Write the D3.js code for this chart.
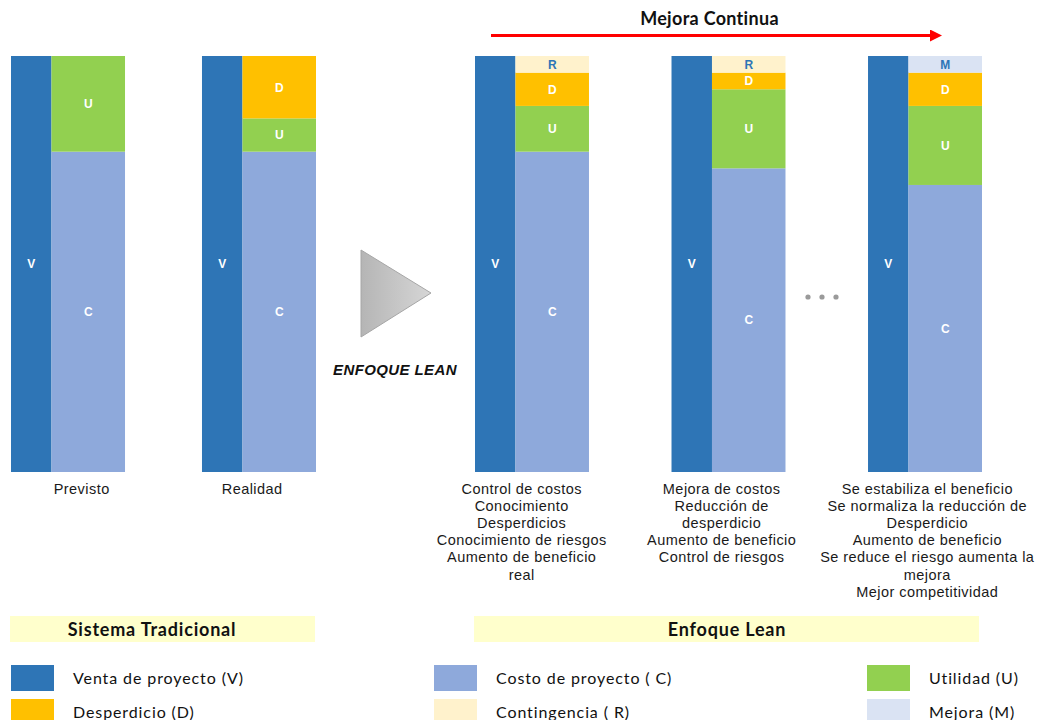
<!DOCTYPE html>
<html>
<head>
<meta charset="utf-8">
<script src="https://cdn.jsdelivr.net/npm/d3@7/dist/d3.min.js"></script>
<style>
  html, body { margin: 0; padding: 0; background: #fff; }
  svg { display: block; }
</style>
</head>
<body>
<svg id="chart" width="1048" height="720"></svg>
<script>
// ---- data ----
const tradGroups = ["Previsto", "Realidad"];
const leanGroups = ["Lean 1", "Lean 2", "Lean 3"];
const groups = tradGroups.concat(leanGroups);

const venta        = [100, 100, 100, 100, 100];
const costo        = [77, 77, 77, 73, 69];
const utilidad     = [23, 8, 11, 19, 19];
const desperdicio  = [0, 15, 8, 4, 8];
const contingencia = [0, 0, 4, 4, 0];
const mejora       = [0, 0, 0, 0, 4];

const segKeys   = ["C", "U", "D", "R", "M"];
const segValues = { C: costo, U: utilidad, D: desperdicio, R: contingencia, M: mejora };

const captions = [
  ["Previsto"],
  ["Realidad"],
  ["Control de costos", "Conocimiento", "Desperdicios", "Conocimiento de riesgos", "Aumento de beneficio", "real"],
  ["Mejora de costos", "Reducción de", "desperdicio", "Aumento de beneficio", "Control de riesgos"],
  ["Se estabiliza el beneficio", "Se normaliza la reducción de", "Desperdicio", "Aumento de beneficio", "Se reduce el riesgo aumenta la", "mejora", "Mejor competitividad"]
];

const legendItems = [
  { key: "V", label: "Venta de proyecto (V)" },
  { key: "C", label: "Costo de proyecto ( C)" },
  { key: "U", label: "Utilidad (U)" },
  { key: "D", label: "Desperdicio (D)" },
  { key: "R", label: "Contingencia ( R)" },
  { key: "M", label: "Mejora (M)" }
];

const sectionTitles = ["Sistema Tradicional", "Enfoque Lean"];

// ---- styles ----
const colors = {
  V: "#2E75B6", C: "#8EA9DB", U: "#92D050",
  D: "#FFC000", R: "#FFF2CC", M: "#DAE3F3"
};
const labelColor = { V: "#fff", C: "#fff", U: "#fff", D: "#fff", R: "#2E75B6", M: "#2E75B6" };
const captionAnchor = [0.62, 0.44, 0.41, 0.44, 0.52];

const svg = d3.select("#chart");

// ---- scales ----
const xTrad = d3.scaleBand().domain(tradGroups).range([11, 316]).paddingInner(0.403);
const xLean = d3.scaleBand().domain(leanGroups).range([475, 982]).paddingInner(0.42);
const xPos = g => tradGroups.includes(g) ? xTrad(g) : xLean(g);
const bw = g => tradGroups.includes(g) ? xTrad.bandwidth() : xLean.bandwidth();
const vFrac = 0.355;

const y = d3.scaleLinear().domain([0, 100]).range([472, 56]);

// stacked segments of the right-hand column
const rows = groups.map((g, i) => {
  const r = { group: g };
  segKeys.forEach(k => r[k] = segValues[k][i]);
  return r;
});
const series = d3.stack().keys(segKeys)(rows);

// ---- bars ----
const gBars = svg.append("g");

// sales column
groups.forEach((g, i) => {
  const x0 = xPos(g);
  const w = bw(g) * vFrac;
  gBars.append("rect")
    .attr("x", x0).attr("y", y(venta[i]))
    .attr("width", w).attr("height", y(0) - y(venta[i]))
    .attr("fill", colors.V);
  gBars.append("text")
    .attr("x", x0 + w / 2).attr("y", (y(venta[i]) + y(0)) / 2)
    .attr("dy", "0.35em").attr("text-anchor", "middle")
    .attr("font-family", "Liberation Sans, Arial, sans-serif")
    .attr("font-weight", "bold").attr("font-size", 12)
    .attr("fill", labelColor.V).text("V");
});

series.forEach(s => {
  const key = s.key;
  s.forEach((d, i) => {
    const g = groups[i];
    if (d[1] - d[0] <= 0) return;
    const x0 = xPos(g) + bw(g) * vFrac;
    const w = bw(g) * (1 - vFrac);
    gBars.append("rect")
      .attr("x", x0).attr("y", y(d[1]))
      .attr("width", w).attr("height", y(d[0]) - y(d[1]))
      .attr("fill", colors[key]);
    gBars.append("text")
      .attr("x", x0 + w / 2).attr("y", (y(d[0]) + y(d[1])) / 2)
      .attr("dy", "0.36em").attr("text-anchor", "middle")
      .attr("font-family", "Liberation Sans, Arial, sans-serif")
      .attr("font-weight", "bold").attr("font-size", 12)
      .attr("fill", labelColor[key]).text(key);
  });
});

// ---- captions under the bars ----
groups.forEach((g, i) => {
  const cx = xPos(g) + bw(g) * captionAnchor[i];
  const t = svg.append("text")
    .attr("text-anchor", "middle")
    .attr("font-family", "Liberation Sans, Arial, sans-serif")
    .attr("font-size", 14.5).attr("letter-spacing", 0.45).attr("fill", "#1a1a1a");
  captions[i].forEach((line, j) => {
    t.append("tspan").attr("x", cx).attr("y", 494 + j * 17.1).text(line);
  });
});

// ---- arrow "ENFOQUE LEAN" ----
const defs = svg.append("defs");
const grad = defs.append("linearGradient").attr("id", "triGrad")
  .attr("x1", "0").attr("y1", "0").attr("x2", "1").attr("y2", "0");
grad.append("stop").attr("offset", "0%").attr("stop-color", "#b5b5b5");
grad.append("stop").attr("offset", "100%").attr("stop-color", "#d6d6d6");

svg.append("path")
  .attr("d", d3.line()([[361, 250], [431, 293], [361, 337]]) + "Z")
  .attr("fill", "url(#triGrad)")
  .attr("stroke", "#a6a6a6").attr("stroke-width", 1);

svg.append("text")
  .attr("x", 395).attr("y", 375).attr("text-anchor", "middle")
  .attr("font-family", "Liberation Sans, Arial, sans-serif")
  .attr("font-weight", "bold").attr("font-style", "italic")
  .attr("font-size", 15).attr("letter-spacing", 0.4).attr("fill", "#111")
  .text("ENFOQUE LEAN");

// ---- ellipsis between the lean stages ----
svg.append("g").selectAll("circle")
  .data([808, 822, 836]).join("circle")
  .attr("cx", d => d).attr("cy", 297).attr("r", 2.6)
  .attr("fill", "#9a9a9a");

// ---- "Mejora Continua" header with red arrow ----
svg.append("text")
  .attr("x", 709.5).attr("y", 25).attr("text-anchor", "middle")
  .attr("font-family", "Lato, sans-serif")
  .attr("font-weight", "bold").attr("font-size", 18).attr("letter-spacing", 0.3).attr("fill", "#111")
  .text("Mejora Continua");

defs.append("marker").attr("id", "redHead")
  .attr("viewBox", "0 0 10 10").attr("refX", 0).attr("refY", 5)
  .attr("markerWidth", 13).attr("markerHeight", 12)
  .attr("markerUnits", "userSpaceOnUse").attr("orient", "auto")
  .append("path").attr("d", "M0,0L10,5L0,10Z").attr("fill", "#FF0000");

svg.append("line")
  .attr("x1", 491).attr("y1", 35.5).attr("x2", 930).attr("y2", 35.5)
  .attr("stroke", "#FF0000").attr("stroke-width", 3)
  .attr("marker-end", "url(#redHead)");

// ---- section bands ----
const bands = [
  { x: 10, w: 305, tx: 152, title: sectionTitles[0] },
  { x: 474, w: 505, tx: 727, title: sectionTitles[1] }
];
bands.forEach(b => {
  svg.append("rect").attr("x", b.x).attr("y", 616).attr("width", b.w).attr("height", 26)
    .attr("fill", "#FFFFCC");
  svg.append("text")
    .attr("x", b.tx).attr("y", 636).attr("text-anchor", "middle")
    .attr("font-family", "Lato, sans-serif").attr("font-weight", "bold")
    .attr("font-size", 18).attr("letter-spacing", 0.8).attr("fill", "#111").text(b.title);
});

// ---- legend ----
const legX = [11, 434, 867];
const legY = [665, 699];
const leg = svg.append("g").selectAll("g").data(legendItems).join("g")
  .attr("transform", (d, i) => `translate(${legX[i % 3]},${legY[Math.floor(i / 3)]})`);
leg.append("rect").attr("width", 43).attr("height", 26).attr("fill", d => colors[d.key]);
leg.append("text")
  .attr("x", 62).attr("y", 13).attr("dy", "0.36em")
  .attr("font-family", "Lato, sans-serif").attr("font-size", 16)
  .attr("letter-spacing", 0.9).attr("fill", "#111")
  .text(d => d.label);
</script>
</body>
</html>
